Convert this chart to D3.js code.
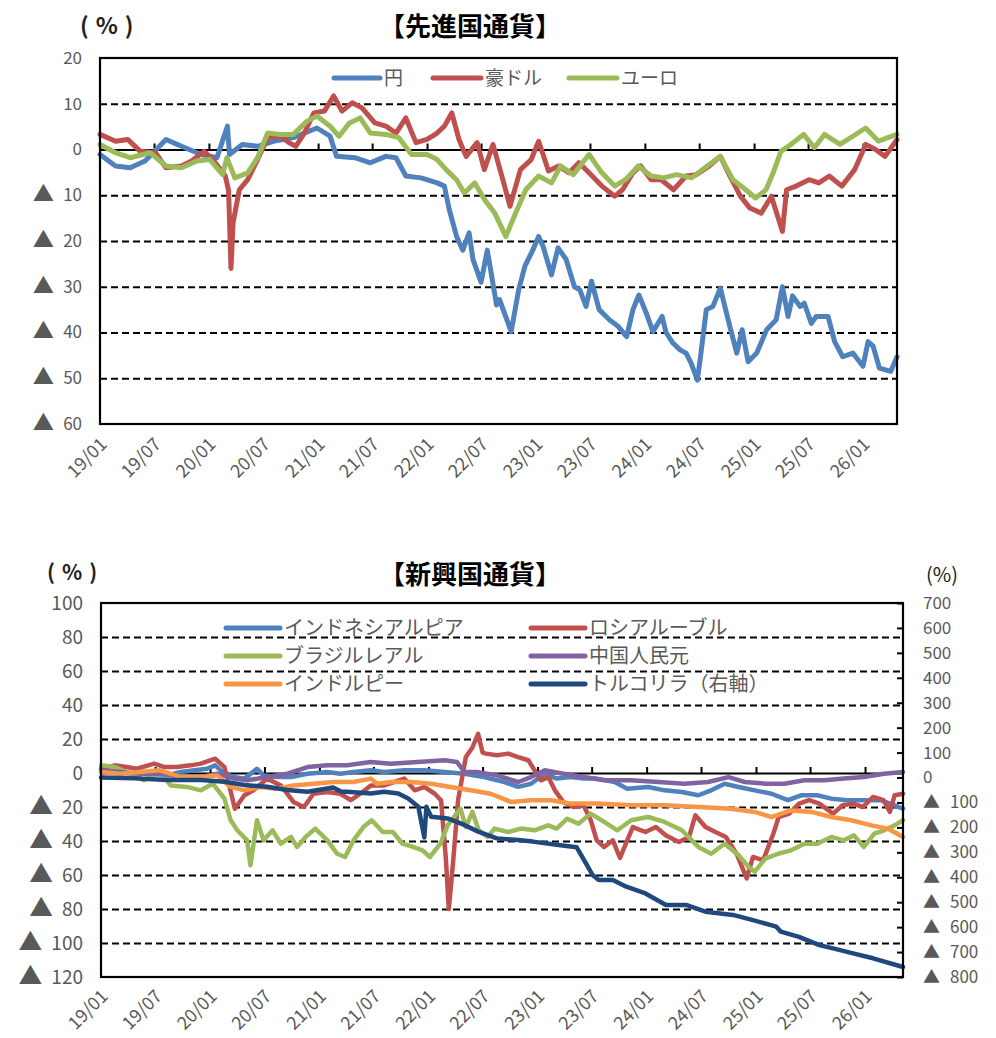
<!DOCTYPE html>
<html>
<head>
<meta charset="utf-8">
<script src="https://cdn.jsdelivr.net/npm/d3@7"></script>
<style>
body { margin: 0; background: #fff; }
svg { display: block; font-family: "Noto Sans CJK JP", "Noto Sans", sans-serif; }
</style>
</head>
<body>
<svg id="chart" width="996" height="1038"></svg>
<script>
////////////////////////////////////////////////////////////
// DATA (percent change since 2019/01)
////////////////////////////////////////////////////////////

// top chart: advanced currencies
var yenData = [["2019-01-01",-1.1],["2019-02-22",-3.6],["2019-04-12",-4],["2019-06-01",-2.5],["2019-08-10",2.2],["2019-10-01",0.7],["2019-12-06",-1.1],["2020-01-28",-1.8],["2020-03-03",5.1],["2020-03-10",-1.1],["2020-04-22",1.1],["2020-06-12",0.7],["2020-08-04",1.8],["2020-10-10",2.6],["2020-12-28",4.7],["2021-02-10",2.9],["2021-03-04",-1.5],["2021-05-04",-1.8],["2021-06-25",-2.9],["2021-08-16",-1.5],["2021-09-19",-1.8],["2021-10-22",-5.8],["2021-12-12",-6.2],["2022-02-04",-7.3],["2022-02-28",-8],["2022-03-16",-13],["2022-04-10",-19],["2022-05-01",-22],["2022-05-22",-18.2],["2022-06-04",-24],["2022-07-01",-29],["2022-07-22",-22],["2022-08-22",-34],["2022-09-01",-32.8],["2022-10-10",-39.8],["2022-11-04",-30.7],["2022-11-25",-25.5],["2022-12-22",-21.9],["2023-01-10",-19],["2023-01-25",-21.2],["2023-02-22",-27.4],["2023-03-16",-21.5],["2023-04-12",-24],["2023-05-10",-30],["2023-05-28",-30.7],["2023-06-18",-34.3],["2023-07-06",-28.8],["2023-08-01",-35],["2023-09-04",-37.2],["2023-10-04",-38.7],["2023-11-01",-40.9],["2023-11-22",-35],["2023-12-12",-31.8],["2024-01-06",-35.8],["2024-01-28",-39.8],["2024-02-28",-36.5],["2024-03-12",-40],["2024-04-04",-42.3],["2024-04-28",-43.8],["2024-05-18",-44.5],["2024-06-04",-46.7],["2024-06-25",-50.4],["2024-07-06",-45],["2024-07-25",-35],["2024-08-16",-34.3],["2024-09-10",-30.3],["2024-09-25",-34.3],["2024-10-12",-38.7],["2024-11-04",-44.5],["2024-11-22",-39.4],["2024-12-12",-46.4],["2025-01-10",-44.5],["2025-02-12",-39.4],["2025-03-16",-37.2],["2025-04-06",-30],["2025-04-25",-36.5],["2025-05-10",-32],["2025-06-04",-34.3],["2025-06-18",-33.6],["2025-07-12",-38],["2025-07-28",-36.5],["2025-09-06",-36.5],["2025-09-28",-42],["2025-10-25",-45.3],["2025-11-28",-44.5],["2026-01-01",-47.4],["2026-01-18",-42],["2026-02-04",-43],["2026-02-25",-47.8],["2026-04-04",-48.5],["2026-04-25",-45.3]];

var audData = [["2019-01-01",3.3],["2019-02-22",1.8],["2019-04-04",2.2],["2019-05-16",-0.4],["2019-07-06",-0.7],["2019-08-10",-4],["2019-10-01",-3.6],["2019-11-04",-2.5],["2019-12-16",-0.4],["2020-01-18",-2.5],["2020-02-25",-5.8],["2020-03-07",-9],["2020-03-15",-26],["2020-03-22",-16],["2020-04-12",-8.8],["2020-05-10",-6.6],["2020-06-12",-2.2],["2020-07-16",2.6],["2020-08-28",2.9],["2020-09-25",1.5],["2020-10-18",0.7],["2020-11-16",3.6],["2020-12-18",8],["2021-01-22",8.4],["2021-02-22",11.7],["2021-03-22",8.4],["2021-04-25",10.2],["2021-05-28",9.1],["2021-07-10",5.8],["2021-08-16",5.1],["2021-09-19",3.6],["2021-10-22",6.9],["2021-11-25",1.5],["2022-01-01",2.2],["2022-02-04",3.6],["2022-02-28",5.1],["2022-03-25",8],["2022-04-18",2.2],["2022-05-12",-1.5],["2022-06-18",1.5],["2022-07-12",-4.4],["2022-08-10",1.1],["2022-09-12",-6.6],["2022-10-06",-12.4],["2022-11-10",-4.4],["2022-12-16",-2.2],["2023-01-10",1.8],["2023-02-12",-4.7],["2023-03-18",-3.6],["2023-04-22",-5.1],["2023-05-25",-2.9],["2023-06-28",-5.1],["2023-08-10",-8],["2023-09-22",-10.2],["2023-10-18",-8.8],["2023-11-22",-5.1],["2023-12-18",-3.6],["2024-01-22",-6.6],["2024-02-25",-6.6],["2024-04-06",-8.8],["2024-05-18",-5.8],["2024-06-22",-5.5],["2024-08-04",-3.6],["2024-09-10",-1.5],["2024-10-12",-5.8],["2024-11-16",-10.2],["2024-12-18",-12.8],["2025-01-25",-13.9],["2025-02-28",-10.2],["2025-04-06",-17.9],["2025-04-20",-8.8],["2025-05-22",-8],["2025-07-04",-6.6],["2025-08-06",-7.3],["2025-09-10",-5.8],["2025-10-22",-8],["2025-12-04",-4.4],["2026-01-10",1.1],["2026-02-12",0],["2026-03-16",-1.5],["2026-04-25",2.2]];

var eurData = [["2019-01-01",1.1],["2019-02-22",-0.7],["2019-04-12",-1.8],["2019-06-18",-0.7],["2019-08-10",-3.6],["2019-10-01",-4],["2019-11-22",-2.5],["2020-01-04",-2.2],["2020-02-16",-5.5],["2020-03-01",-1.8],["2020-03-28",-6.2],["2020-05-10",-5.1],["2020-06-12",-1.8],["2020-07-16",3.6],["2020-08-28",3.3],["2020-10-10",3.3],["2020-11-25",6.2],["2020-12-28",7.3],["2021-02-10",5.1],["2021-03-12",2.9],["2021-04-16",5.8],["2021-05-22",6.9],["2021-06-25",3.6],["2021-08-16",3.3],["2021-09-28",2.6],["2021-11-10",-1.1],["2022-01-01",-1.1],["2022-02-04",-2.2],["2022-03-06",-4.4],["2022-04-10",-6.6],["2022-05-06",-9.5],["2022-06-10",-7.3],["2022-07-12",-10.9],["2022-08-16",-13.9],["2022-09-22",-19],["2022-10-25",-13.9],["2022-11-28",-8.8],["2023-01-10",-5.8],["2023-02-22",-7.3],["2023-03-25",-3.6],["2023-05-06",-5.5],["2023-06-28",-1.1],["2023-08-10",-5.1],["2023-09-22",-8],["2023-10-28",-6.6],["2023-12-10",-3.6],["2024-01-22",-5.8],["2024-03-04",-6.2],["2024-04-16",-5.5],["2024-06-06",-6.2],["2024-07-28",-3.6],["2024-09-10",-1.5],["2024-10-22",-6.6],["2024-12-04",-8.8],["2025-01-06",-10.6],["2025-02-10",-8.8],["2025-03-06",-5.1],["2025-04-01",-0.4],["2025-05-04",1.1],["2025-06-16",3.3],["2025-07-22",0.4],["2025-08-25",3.3],["2025-10-16",1.1],["2025-11-28",2.9],["2026-01-10",4.7],["2026-02-22",1.8],["2026-03-25",2.6],["2026-04-25",3.3]];

// bottom chart: emerging currencies (try is on the right axis)
var idrData = [["2019-01-01",0.6],["2019-02-25",0.6],["2019-04-22",-0.4],["2019-06-16",-0.4],["2019-08-10",-1.4],["2019-09-25",0.6],["2019-11-10",1.6],["2019-12-22",2.5],["2020-01-18",4.5],["2020-02-18",-0.4],["2020-03-22",-2.4],["2020-04-25",-3.3],["2020-06-06",2.5],["2020-06-28",-1.4],["2020-08-12",-2.4],["2020-09-28",-2.4],["2020-11-22",-0.4],["2021-01-28",0.6],["2021-03-12",-0.4],["2021-04-25",0.6],["2021-06-22",1.6],["2021-08-06",0.6],["2021-10-12",1.6],["2021-12-18",1.6],["2022-02-25",0.6],["2022-05-01",-0.4],["2022-07-06",-2.4],["2022-09-12",-5.3],["2022-10-28",-8.2],["2022-12-10",-6.3],["2023-01-25",-0.4],["2023-03-06",-3.3],["2023-04-22",-2.4],["2023-06-04",-3.3],["2023-07-18",-3.3],["2023-09-16",-5.3],["2023-10-28",-9.2],["2024-01-06",-8.2],["2024-03-01",-10.2],["2024-04-28",-11.2],["2024-06-22",-13.1],["2024-08-04",-10.2],["2024-09-18",-6.3],["2024-11-04",-8.2],["2024-12-28",-10.2],["2025-02-22",-12.2],["2025-04-18",-16],["2025-06-01",-13.1],["2025-07-25",-13.1],["2025-09-10",-15.1],["2025-11-04",-16],["2025-12-28",-16],["2026-02-22",-16],["2026-04-10",-19],["2026-05-08",-21]];

var rubData = [["2019-01-01",2.5],["2019-02-16",4.5],["2019-03-28",3.5],["2019-05-01",2.5],["2019-06-28",5.5],["2019-08-01",3.5],["2019-09-12",3.5],["2019-10-28",4.5],["2019-12-01",5.5],["2020-01-18",8.4],["2020-02-18",3.5],["2020-03-12",-12.2],["2020-03-24",-21],["2020-04-25",-13.1],["2020-05-25",-10.2],["2020-07-10",-3.3],["2020-08-25",-7.3],["2020-10-06",-17],["2020-11-10",-20],["2020-12-12",-12.2],["2021-01-28",-11.2],["2021-03-12",-12.2],["2021-04-16",-16],["2021-05-18",-12.2],["2021-06-22",-7.3],["2021-08-06",-7.3],["2021-10-12",-3.3],["2021-11-16",-10.2],["2021-12-18",-8.2],["2022-01-22",-12.2],["2022-02-12",-16],["2022-02-28",-50],["2022-03-10",-80],["2022-03-25",-51],["2022-04-10",-16],["2022-05-06",9.4],["2022-05-28",15],["2022-06-16",23],["2022-07-01",12],["2022-07-12",11.4],["2022-08-18",10.4],["2022-09-25",11.4],["2022-10-28",9.4],["2022-12-01",7.5],["2022-12-22",1.6],["2023-01-12",-4.3],["2023-02-06",-2.4],["2023-02-28",-10.2],["2023-03-28",-17],["2023-05-01",-20],["2023-06-04",-19],["2023-06-28",-27.8],["2023-07-18",-39.6],["2023-08-12",-43.5],["2023-09-10",-39.6],["2023-10-04",-50],["2023-10-28",-39.6],["2023-11-16",-31.8],["2023-12-28",-34.7],["2024-02-01",-31.8],["2024-03-06",-36.7],["2024-04-18",-40.6],["2024-05-22",-37.6],["2024-06-12",-24.9],["2024-07-16",-31.8],["2024-08-18",-34.7],["2024-09-22",-37.6],["2024-10-28",-47.5],["2024-12-01",-62],["2024-12-22",-49.4],["2025-01-25",-51.4],["2025-02-28",-35.7],["2025-03-18",-25.9],["2025-04-22",-23.9],["2025-05-25",-18],["2025-06-28",-16],["2025-08-01",-18],["2025-09-16",-23.9],["2025-10-18",-19],["2025-11-22",-18],["2025-12-25",-20],["2026-01-28",-14.1],["2026-03-04",-16],["2026-03-25",-22.9],["2026-04-10",-13.1],["2026-05-08",-12.2]];

var brlData = [["2019-01-01",4.5],["2019-02-16",3.5],["2019-03-28",0.6],["2019-05-25",-4.3],["2019-07-18",0.6],["2019-08-22",-7.3],["2019-10-16",-8.2],["2019-12-01",-10.2],["2020-01-10",-6.3],["2020-02-18",-15],["2020-03-10",-27.8],["2020-04-01",-33.7],["2020-05-04",-39.6],["2020-05-15",-54.3],["2020-06-06",-27.8],["2020-06-28",-39.6],["2020-07-28",-33.7],["2020-08-25",-41.6],["2020-09-28",-37.6],["2020-10-18",-43.5],["2020-11-16",-37.6],["2020-12-18",-32.7],["2021-01-28",-39.6],["2021-03-01",-47.5],["2021-03-28",-49.4],["2021-04-25",-39.6],["2021-05-28",-31.8],["2021-06-25",-27.8],["2021-08-01",-34.7],["2021-09-04",-34.7],["2021-10-06",-41.6],["2021-11-10",-43.5],["2021-12-12",-45.5],["2022-01-06",-49.4],["2022-02-10",-41.6],["2022-03-06",-30.8],["2022-04-18",-21],["2022-05-06",-31.8],["2022-05-28",-22.9],["2022-06-18",-33.7],["2022-07-18",-37.6],["2022-08-10",-32.7],["2022-09-25",-34.7],["2022-11-06",-32.7],["2022-12-22",-33.7],["2023-02-06",-30.8],["2023-03-06",-32.7],["2023-04-10",-26.9],["2023-05-18",-29.8],["2023-06-28",-23.9],["2023-08-12",-28.8],["2023-09-25",-33.7],["2023-11-10",-27.8],["2024-01-06",-25.9],["2024-03-01",-28.8],["2024-04-28",-33.7],["2024-06-22",-43.5],["2024-08-04",-47.5],["2024-09-18",-41.6],["2024-11-04",-48.4],["2024-12-06",-55],["2024-12-28",-58],["2025-02-01",-50.4],["2025-03-16",-47.5],["2025-04-28",-45.5],["2025-06-12",-41.6],["2025-07-25",-41.6],["2025-09-10",-37.6],["2025-10-22",-39.6],["2025-11-25",-36.7],["2025-12-28",-43.5],["2026-02-01",-35.7],["2026-03-06",-33.7],["2026-04-10",-30.8],["2026-05-08",-27.8]];

var cnyData = [["2019-01-01",1.6],["2019-03-06",0.6],["2019-05-12",-0.4],["2019-07-18",-0.4],["2019-09-25",-2.4],["2019-12-01",-2.4],["2020-01-25",-0.4],["2020-03-22",-3.3],["2020-05-04",-4.3],["2020-07-10",-2.4],["2020-09-16",-0.4],["2020-11-22",3.5],["2021-01-28",4.5],["2021-04-04",4.5],["2021-06-22",6.5],["2021-08-28",5.5],["2021-11-25",6.5],["2022-02-25",7.5],["2022-04-06",6.5],["2022-05-01",0.6],["2022-06-12",0.6],["2022-08-18",-1.4],["2022-10-28",-5.3],["2022-12-10",-2.4],["2023-01-25",1.6],["2023-03-28",-0.4],["2023-06-04",-2.4],["2023-08-12",-4.3],["2023-11-10",-4.3],["2024-02-10",-5.3],["2024-05-06",-6.3],["2024-07-25",-5.3],["2024-10-01",-2.4],["2024-11-25",-5.3],["2025-02-01",-6.3],["2025-04-06",-6.3],["2025-06-12",-4.3],["2025-08-18",-4.3],["2025-10-22",-3.3],["2025-12-28",-2.4],["2026-03-06",-0.4],["2026-05-08",0.6]];

var inrData = [["2019-01-01",0.6],["2019-03-06",-0.4],["2019-05-12",0.6],["2019-07-18",1.6],["2019-09-25",-2.4],["2019-12-01",-2.4],["2020-01-25",-1.4],["2020-03-10",-8.2],["2020-04-25",-10.2],["2020-06-18",-8.2],["2020-08-12",-9.2],["2020-10-06",-7.3],["2020-12-12",-6.3],["2021-02-18",-5.3],["2021-04-25",-5.3],["2021-06-22",-3.3],["2021-07-12",-6.3],["2021-08-28",-5.3],["2021-11-04",-5.3],["2022-01-10",-6.3],["2022-03-16",-8.2],["2022-05-22",-10.2],["2022-07-28",-12.2],["2022-10-04",-17],["2022-12-10",-16],["2023-02-16",-16],["2023-04-22",-18],["2023-07-18",-18],["2023-11-10",-19],["2024-03-01",-19],["2024-06-22",-20],["2024-10-10",-21],["2024-12-28",-22.9],["2025-02-22",-25.9],["2025-04-28",-22],["2025-07-06",-22.9],["2025-09-10",-25.9],["2025-11-16",-27.8],["2026-01-22",-30.8],["2026-03-18",-32.7],["2026-05-08",-37.6]];

var tryData = [["2019-01-01",0],["2019-04-22",-3],["2019-08-10",-10],["2019-12-01",-10],["2020-02-18",-17],["2020-04-25",-30],["2020-07-10",-37],["2020-09-16",-50],["2020-11-22",-57],["2021-02-16",-40],["2021-03-16",-57],["2021-04-04",-57],["2021-06-22",-64],["2021-08-06",-57],["2021-09-22",-64],["2021-10-25",-84],["2021-11-28",-117],["2021-12-18",-240],["2021-12-25",-117],["2022-01-10",-157],["2022-03-06",-164],["2022-05-01",-190],["2022-06-16",-217],["2022-08-18",-244],["2022-10-28",-251],["2022-12-16",-257],["2023-03-12",-271],["2023-05-12",-280],["2023-06-12",-344],["2023-07-04",-391],["2023-07-25",-411],["2023-09-10",-411],["2023-10-25",-438],["2023-12-28",-465],["2024-03-06",-511],["2024-05-12",-511],["2024-07-16",-538],["2024-10-16",-551],["2024-12-22",-572],["2025-03-10",-598],["2025-03-25",-618],["2025-05-25",-639],["2025-08-01",-672],["2025-09-16",-685],["2025-11-22",-705],["2026-01-28",-725],["2026-05-08",-760]];

// axis ticks
var topTicks = [20, 10, 0, -10, -20, -30, -40, -50, -60];
var topGrid = [10, -10, -20, -30, -40, -50];
var botTicksL = [100, 80, 60, 40, 20, 0, -20, -40, -60, -80, -100, -120];
var botGridL = [80, 60, 40, 20, -20, -40, -60, -80, -100];
var botTicksR = [700, 600, 500, 400, 300, 200, 100, 0, -100, -200, -300, -400, -500, -600, -700, -800];

// series names and colours
var topNames = ["円", "豪ドル", "ユーロ"];
var topColors = ["#4f81bd", "#c0504d", "#9bbb59"];
var botNames = ["インドネシアルピア", "ロシアルーブル", "ブラジルレアル", "中国人民元", "インドルピー", "トルコリラ（右軸）"];
var botColors = ["#4f81bd", "#c0504d", "#9bbb59", "#8064a2", "#f79646", "#1f497d"];

////////////////////////////////////////////////////////////
// DRAWING
////////////////////////////////////////////////////////////
var parseDate = d3.utcParse("%Y-%m-%d");
var fmtTick = d3.utcFormat("%y/%m");
var svg = d3.select("#chart");
var gray = "#595959";

function toPoints(arr) {
    return arr.map(function(d) { return {date: parseDate(d[0]), value: d[1]}; });
}

// "▲ 10" style labels for negative numbers
function triLabels(sel, triSize, gap) {
    sel.each(function(d) {
        var t = d3.select(this);
        t.text(null);
        if (d < 0) {
            t.append("tspan").attr("font-size", triSize).text("▲");
            t.append("tspan").attr("dx", gap).text(-d);
        } else {
            t.text(d);
        }
    });
}

// d3 axes put font-family="sans-serif" on the group, drop it
function plainAxis(g) {
    g.attr("font-family", null).attr("font-size", null);
    g.select(".domain").remove();
}

function addLine(g, data, x, y, color, width) {
    var line = d3.line()
        .x(function(d) { return x(d.date); })
        .y(function(d) { return y(d.value); });
    g.append("path")
        .datum(toPoints(data))
        .attr("fill", "none")
        .attr("stroke", color)
        .attr("stroke-width", width)
        .attr("stroke-linejoin", "round")
        .attr("stroke-linecap", "round")
        .attr("d", line);
}

function drawFrame(box, x, y, gridVals, tickVals, fontSize, dateSize, labelDrop) {
    var w = box.right - box.left;
    // dashed gridlines
    svg.append("g")
        .attr("transform", "translate(" + box.left + ",0)")
        .call(d3.axisLeft(y).tickValues(gridVals).tickSize(-w).tickFormat(""))
        .call(plainAxis)
        .selectAll("line")
        .attr("stroke", "#000")
        .attr("stroke-width", 2)
        .attr("stroke-dasharray", "7,4");

    // left labels
    svg.append("g")
        .attr("transform", "translate(" + box.left + ",0)")
        .call(d3.axisLeft(y).tickValues(tickVals).tickSize(0).tickPadding(18))
        .call(plainAxis)
        .selectAll("text")
        .attr("fill", gray)
        .attr("font-size", fontSize)
        .call(triLabels, fontSize * 1.25, 9);

    // zero line with ticks pointing up
    svg.append("g")
        .attr("transform", "translate(0," + y(0) + ")")
        .call(d3.axisTop(x).ticks(d3.utcMonth.every(6)).tickSize(6).tickSizeOuter(0).tickFormat(""))
        .call(function(g) {
            g.select(".domain").attr("stroke", "#000").attr("stroke-width", 2);
            g.selectAll("line").attr("stroke", "#000").attr("stroke-width", 2);
        });

    // rotated date labels under the plot
    svg.append("g")
        .attr("transform", "translate(0," + box.bottom + ")")
        .call(d3.axisBottom(x).ticks(d3.utcMonth.every(6)).tickSize(0).tickFormat(fmtTick))
        .call(plainAxis)
        .selectAll("text")
        .attr("fill", gray)
        .attr("font-size", dateSize)
        .attr("text-anchor", "end")
        .attr("dy", "0.35em")
        .attr("y", 0)
        .attr("transform", "translate(3," + labelDrop + ") rotate(-45)");
}

function drawBorder(box) {
    svg.append("rect")
        .attr("x", box.left).attr("y", box.top)
        .attr("width", box.right - box.left).attr("height", box.bottom - box.top)
        .attr("fill", "none").attr("stroke", "#000").attr("stroke-width", 2.2);
}

function drawLegend(names, colors, spots, fontSize) {
    var g = svg.append("g");
    names.forEach(function(n, i) {
        var s = spots[i];
        g.append("line")
            .attr("x1", s[0]).attr("x2", s[0] + s[2])
            .attr("y1", s[1]).attr("y2", s[1])
            .attr("stroke", colors[i]).attr("stroke-width", 5)
            .attr("stroke-linecap", "round");
        g.append("text")
            .attr("x", s[0] + s[2] + 4).attr("y", s[1])
            .attr("dy", "0.36em")
            .attr("fill", gray)
            .attr("font-size", fontSize)
            .text(n);
    });
}

// unit label, spaced out like the original's wide brackets
function unitLabel(x, y, size, spacing, weight) {
    svg.append("text").attr("x", x).attr("y", y)
        .attr("font-size", size).attr("font-weight", weight)
        .attr("letter-spacing", spacing)
        .attr("fill", "#222").text("(%)");
}

// ---------------- top chart ----------------
var boxT = {left: 100, right: 897, top: 58, bottom: 424};
var xT = d3.scaleUtc().domain([parseDate("2019-01-01"), parseDate("2026-04-25")]).range([boxT.left, boxT.right]);
var yT = d3.scaleLinear().domain([-60, 20]).range([boxT.bottom, boxT.top]);

svg.append("text").attr("x", 470).attr("y", 36).attr("text-anchor", "middle")
    .attr("font-size", 26).attr("font-weight", "bold").attr("fill", "#000").text("【先進国通貨】");
unitLabel(80, 34, 23, 7, "bold");

drawFrame(boxT, xT, yT, topGrid, topTicks, 17, 18, 17);
var gT = svg.append("g");
addLine(gT, yenData, xT, yT, topColors[0], 5);
addLine(gT, audData, xT, yT, topColors[1], 5);
addLine(gT, eurData, xT, yT, topColors[2], 5);
drawBorder(boxT);
drawLegend(topNames, topColors, [[334, 78, 46], [433, 78, 48], [569, 78, 48]], 19);

// ---------------- bottom chart ----------------
var boxB = {left: 101, right: 903, top: 603, bottom: 977};
var xB = d3.scaleUtc().domain([parseDate("2019-01-01"), parseDate("2026-05-08")]).range([boxB.left, boxB.right]);
var yB = d3.scaleLinear().domain([-120, 100]).range([boxB.bottom, boxB.top]);
var yR = d3.scaleLinear().domain([-800, 700]).range([boxB.bottom, boxB.top]);

svg.append("text").attr("x", 470).attr("y", 584).attr("text-anchor", "middle")
    .attr("font-size", 26).attr("font-weight", "bold").attr("fill", "#000").text("【新興国通貨】");
unitLabel(47, 580, 21, 7, "bold");
unitLabel(926, 582, 20, 0, "normal");

drawFrame(boxB, xB, yB, botGridL, botTicksL, 19, 18, 16);

// right axis: ticks inward, labels outside
svg.append("g")
    .attr("transform", "translate(" + boxB.right + ",0)")
    .call(d3.axisRight(yR).tickValues(botTicksR).tickSize(-6).tickPadding(20))
    .call(function(g) {
        plainAxis(g);
        g.selectAll("line").attr("stroke", "#000").attr("stroke-width", 2);
    })
    .selectAll("text")
    .attr("fill", gray)
    .attr("font-size", 17)
    .attr("text-anchor", "start")
    .call(triLabels, 17, 10);

var gB = svg.append("g");
addLine(gB, idrData, xB, yB, botColors[0], 4.5);
addLine(gB, rubData, xB, yB, botColors[1], 4.5);
addLine(gB, brlData, xB, yB, botColors[2], 4.5);
addLine(gB, cnyData, xB, yB, botColors[3], 4.5);
addLine(gB, inrData, xB, yB, botColors[4], 4.5);
addLine(gB, tryData, xB, yR, botColors[5], 4.5);
drawBorder(boxB);
drawLegend(botNames, botColors,
    [[226, 628, 54], [531, 628, 54], [226, 656, 54], [531, 656, 54], [226, 684, 54], [531, 684, 54]], 20);
</script>
</body>
</html>
